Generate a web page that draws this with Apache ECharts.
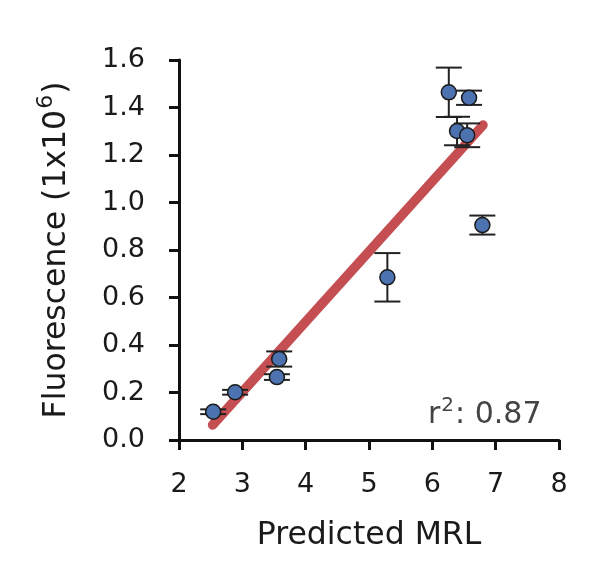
<!DOCTYPE html>
<html>
<head>
<meta charset="utf-8">
<script src="https://cdn.jsdelivr.net/npm/echarts@6/dist/echarts.min.js"></script>
<style>html,body{margin:0;padding:0;background:#fff;}#c{width:597px;height:580px;}</style>
</head>
<body>
<div id="c"></div>
<script>
const mrl = [2.54, 2.886, 3.546, 3.582, 5.29, 6.26, 6.39, 6.55, 6.58, 6.79];
const fluor = [0.119, 0.201, 0.265, 0.341, 0.685, 1.464, 1.301, 1.283, 1.441, 0.905];
const fluorErr = [0.01, 0.01, 0.012, 0.032, 0.102, 0.104, 0.06, 0.05, 0.03, 0.04];
const fitX = [2.53, 6.80];
const fitY = [0.063, 1.326];
const xTicks = [2, 3, 4, 5, 6, 7, 8];
const yTicks = [0.0, 0.2, 0.4, 0.6, 0.8, 1.0, 1.2, 1.4, 1.6];
const r2Value = '0.87';

const font = 'DejaVu Sans';
const chart = echarts.init(document.getElementById('c'), null, {renderer: 'canvas'});
const pts = mrl.map((x, i) => [x, fluor[i]]);
const errData = mrl.map((x, i) => [x, fluor[i] - fluorErr[i], fluor[i] + fluorErr[i]]);
const fitData = fitX.map((x, i) => [x, fitY[i]]);

chart.setOption({
  animation: false,
  grid: {left: 179, right: 38, top: 60, bottom: 140},
  xAxis: {
    type: 'value', min: xTicks[0], max: xTicks[xTicks.length - 1], interval: 1,
    name: 'Predicted MRL', nameLocation: 'middle', nameGap: 80,
    nameTextStyle: {fontFamily: font, fontSize: 31.5, color: '#1a1a1a'},
    axisLine: {lineStyle: {color: '#111', width: 3}},
    axisTick: {length: 10, lineStyle: {color: '#111', width: 3}},
    axisLabel: {fontFamily: font, fontSize: 27, color: '#1a1a1a', margin: 31,
      formatter: v => String(v)},
    splitLine: {show: false}
  },
  yAxis: {
    type: 'value', min: yTicks[0], max: yTicks[yTicks.length - 1], interval: 0.2,
    name: '{a|Fluorescence (1x10}{s|6}{a|)}', nameLocation: 'middle', nameGap: 106,
    nameTextStyle: {
      fontFamily: font, fontSize: 31.5, color: '#1a1a1a',
      rich: {
        a: {fontFamily: font, fontSize: 31.5, color: '#1a1a1a', lineHeight: 38, verticalAlign: 'bottom'},
        s: {fontFamily: font, fontSize: 22, color: '#1a1a1a', lineHeight: 38, verticalAlign: 'top', padding: [0, 1, 12, 1]}
      }
    },
    axisLine: {show: true, lineStyle: {color: '#111', width: 3}},
    axisTick: {show: true, length: 10, lineStyle: {color: '#111', width: 3}},
    axisLabel: {fontFamily: font, fontSize: 27, color: '#1a1a1a', margin: 34,
      formatter: v => v.toFixed(1)},
    splitLine: {show: false}
  },
  series: [
    {
      type: 'line', data: fitData, symbol: 'none', z: 1,
      lineStyle: {color: '#c44e52', width: 9.5, cap: 'round'}
    },
    {
      type: 'custom', z: 2, data: errData,
      renderItem: function (params, api) {
        const x = api.value(0);
        const lo = api.coord([x, api.value(1)]);
        const hi = api.coord([x, api.value(2)]);
        const hw = 13;
        const st = {stroke: '#222', lineWidth: 2, fill: null};
        return {type: 'group', children: [
          {type: 'line', shape: {x1: lo[0], y1: lo[1], x2: hi[0], y2: hi[1]}, style: st},
          {type: 'line', shape: {x1: lo[0] - hw, y1: lo[1], x2: lo[0] + hw, y2: lo[1]}, style: st},
          {type: 'line', shape: {x1: hi[0] - hw, y1: hi[1], x2: hi[0] + hw, y2: hi[1]}, style: st}
        ]};
      }
    },
    {
      type: 'scatter', data: pts, z: 3, symbolSize: 15,
      itemStyle: {color: '#4c72b0', borderColor: '#1a1a1a', borderWidth: 1.5, opacity: 1}
    }
  ],
  graphic: [{
    type: 'text', left: 428, top: 396,
    style: {
      text: '{a|r}{s|2}{a|: ' + r2Value + '}',
      rich: {
        a: {fontFamily: font, fontSize: 30, fill: '#444', color: '#444', verticalAlign: 'bottom', lineHeight: 34},
        s: {fontFamily: font, fontSize: 20, fill: '#444', color: '#444', verticalAlign: 'top', lineHeight: 34, padding: [0, 1, 14, 1]}
      }
    }
  }]
});
</script>
</body>
</html>
